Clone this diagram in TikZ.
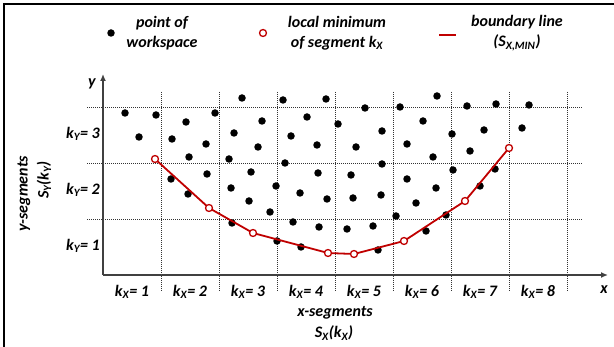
\documentclass[tikz,border=0pt]{standalone}
\usepackage{fontspec}
\setmainfont{Carlito}
\usetikzlibrary{arrows.meta}
\definecolor{bred}{HTML}{C00000}
\definecolor{axgray}{HTML}{404040}
\begin{document}
\begin{tikzpicture}[x=1pt,y=-1pt,
  font=\bfseries\itshape\fontsize{16}{20}\selectfont,
  gridline/.style={densely dotted, line width=1pt, black!80},
  axisline/.style={line width=1.3pt, axgray, -{Latex[length=7pt,width=6pt]}},
  wdot/.style={circle, fill=black, inner sep=0pt, minimum size=7.5pt},
  lmin/.style={circle, draw=bred, fill=white, line width=1.3pt, inner sep=0pt, minimum size=7pt},
  bline/.style={draw=bred, line width=1.8pt},
  lbl/.style={inner sep=0pt, align=center},
  frameline/.style={line width=2pt, black}]
\useasboundingbox (0,0) rectangle (614,347);
% frame (left and top)
\draw[frameline] (4,347) -- (4,4) -- (614,4);
% grid
\foreach \gx in {161,219,277,335,393,451,509,567}
  \draw[gridline] (\gx,92) -- (\gx,292);
\foreach \gy in {108,164,220}
  \draw[gridline] (87,\gy) -- (583,\gy);
% axes
\coordinate (O) at (103,275);
\coordinate (xend) at (608,275);
\coordinate (yend) at (103,74);
\draw[axisline] (O) -- (xend);
\draw[axisline] (O) -- (yend);
\node[lbl] (xl) at (604,290) {x};
\node[lbl] (yl) at (92,84) {y};
% points of workspace
\foreach \px/\py [count=\i] in {125/113,156/115,186/122,139/137,172/139,189/157,171/179,188/194,
  206/144,215/113,242/98,283/100,262/121,234/133,258/147,291/136,229/159,285/163,207/174,251/172,
  231/188,276/186,300/193,249/201,270/212,293/222,232/223,277/241,301/247,
  326/99,307/117,365/108,400/107,437/96,467/106,496/104,338/124,382/131,423/121,452/134,484/130,
  317/145,356/147,407/144,433/157,470/151,382/164,318/173,351/175,407/179,453/170,495/169,
  327/199,353/198,381/195,436/188,416/203,480/186,396/216,446/215,319/227,347/229,373/226,426/231,
  378/250,529/105,522/128}
  \node[wdot] (d\i) at (\px,\py) {};
% local minima
\foreach \mx/\my [count=\i] in {155/159,209/208,253/233,328/253,354/254,404/241,465/201,509/148}
  \coordinate (c\i) at (\mx,\my);
\draw[bline] (c1) -- (c2) -- (c3) -- (c4) -- (c5) -- (c6) -- (c7) -- (c8);
\foreach \i in {1,...,8}
  \node[lmin] (m\i) at (c\i) {};
% y labels
\node[lbl, anchor=east] (ky3) at (100,134) {k\textsubscript{Y}= 3};
\node[lbl, anchor=east] (ky2) at (100,190) {k\textsubscript{Y}= 2};
\node[lbl, anchor=east] (ky1) at (100,246) {k\textsubscript{Y}= 1};
\node[lbl, rotate=90] (yseg) at (24,194) {y-segments};
\node[lbl, rotate=90] (ysx) at (44,180) {S\textsubscript{Y}(k\textsubscript{Y})};
% x labels
\foreach \n/\cx in {1/132,2/190,3/248,4/306,5/364,6/422,7/480,8/538}
  \node[lbl] (kx\n) at (\cx,292) {k\textsubscript{X}= \n};
\node[lbl] (xseg) at (335,313) {x-segments};
\node[lbl] (xsx) at (334,333) {S\textsubscript{X}(k\textsubscript{X})};
% legend
\node[wdot] (lgdot) at (111,33) {};
\node[lbl] (lgdott) at (162,33) {point of\\workspace};
\node[lmin] (lgmin) at (263,33) {};
\node[lbl] (lgmint) at (337,33) {local minimum\\of segment k\textsubscript{X}};
\coordinate (lga) at (439,35);
\coordinate (lgb) at (456,35);
\draw[bline] (lga) -- (lgb);
\node[lbl] (lgbt) at (517,33) {boundary line\\(S\textsubscript{X,MIN})};
\end{tikzpicture}
\end{document}
